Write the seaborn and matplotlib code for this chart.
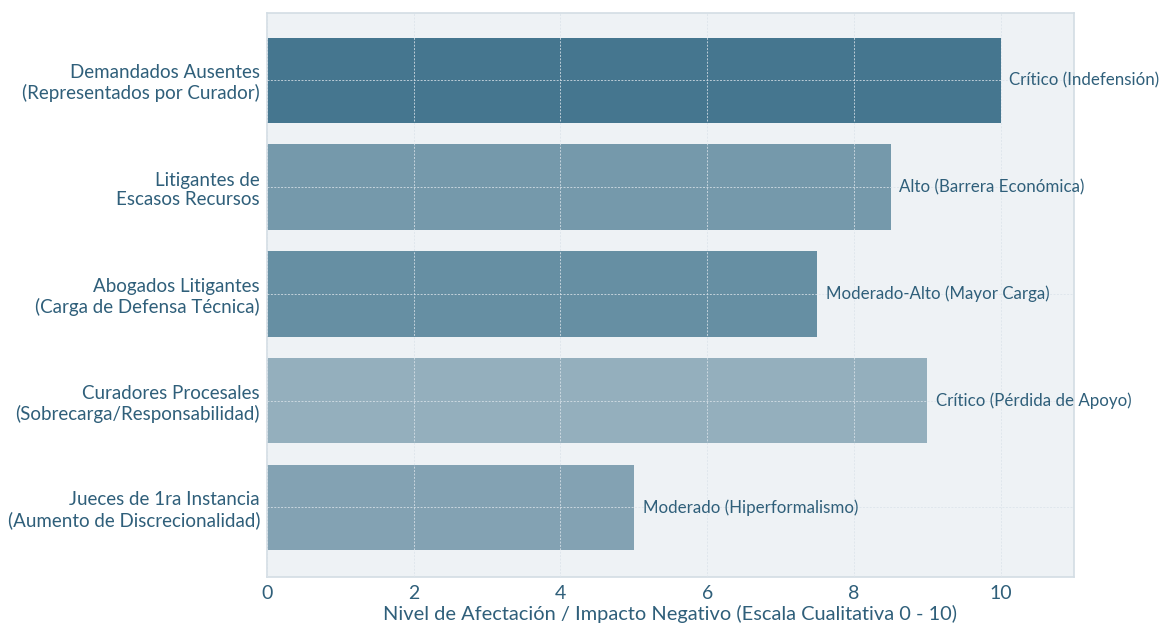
import matplotlib
matplotlib.use("Agg")
import matplotlib.pyplot as plt
import pandas as pd
import seaborn as sns

categorias = [
    "Demandados Ausentes\n(Representados por Curador)",
    "Litigantes de\nEscasos Recursos",
    "Abogados Litigantes\n(Carga de Defensa Técnica)",
    "Curadores Procesales\n(Sobrecarga/Responsabilidad)",
    "Jueces de 1ra Instancia\n(Aumento de Discrecionalidad)",
]
impacto = [10, 8.5, 7.5, 9, 5]
etiquetas = [
    "Crítico (Indefensión)",
    "Alto (Barrera Económica)",
    "Moderado-Alto (Mayor Carga)",
    "Crítico (Pérdida de Apoyo)",
    "Moderado (Hiperformalismo)",
]
colores = ["#45768f", "#7599ab", "#668fa3", "#94afbd", "#83a2b3"]

TEXTO = "#2f5f7a"

df = pd.DataFrame({"categoria": categorias, "impacto": impacto})

sns.set_style("white")
plt.rcParams["font.family"] = ["Lato", "DejaVu Sans"]

fig = plt.figure(figsize=(11.61, 6.27), dpi=100)
ax = fig.add_axes([0.23, 0.08, 0.695, 0.899])
ax.set_facecolor("#eef2f5")

sns.barplot(data=df, x="impacto", y="categoria", hue="categoria",
            palette=colores, saturation=1, legend=False, orient="h", width=0.8,
            edgecolor="none", ax=ax, zorder=2)

ax.set_xlim(0, 11)
ax.set_ylim(4.65, -0.63)
ax.set_xticks([0, 2, 4, 6, 8, 10])
ax.grid(True, axis="both", color="#dbe3ea", linestyle=(0, (2, 1.5)), linewidth=0.7,
        alpha=0.8, zorder=3)
ax.set_axisbelow(False)

for i, (v, t) in enumerate(zip(impacto, etiquetas)):
    ax.text(v + 0.12, i, t, va="center", ha="left", fontsize=12.2, color=TEXTO, zorder=4)

for s in ax.spines.values():
    s.set_color("#d3dde4")
    s.set_linewidth(1.2)

ax.tick_params(axis="y", labelsize=13.5, labelcolor=TEXTO, length=0, pad=5)
ax.tick_params(axis="x", labelsize=14, labelcolor=TEXTO, length=4, color="#d3dde4", pad=2)
ax.set_ylabel("")
ax.set_xlabel("Nivel de Afectación / Impacto Negativo (Escala Cualitativa 0 - 10)",
              fontsize=14.4, color=TEXTO, labelpad=2)

fig.savefig("out.png", dpi=100, facecolor="white")
